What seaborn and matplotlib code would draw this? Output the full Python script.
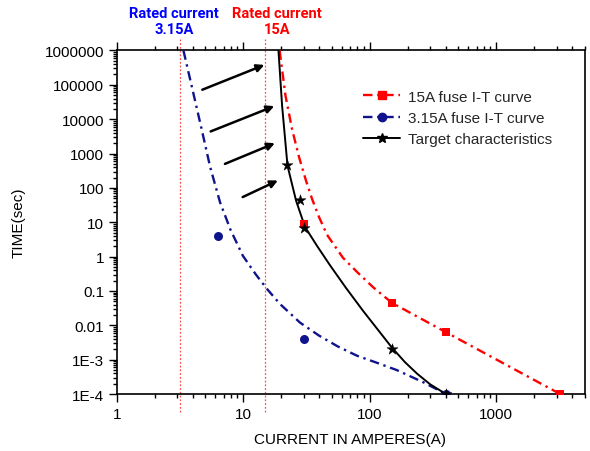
import numpy as np
import pandas as pd
import matplotlib
matplotlib.use("Agg")
import matplotlib.pyplot as plt
import seaborn as sns
from matplotlib.lines import Line2D
from matplotlib.ticker import LogLocator, NullFormatter

# ---- data -------------------------------------------------------------
# 15 A fuse I-T curve (fitted line) and its measured points
fuse15_curve_current = [19.4, 21.6, 24.3, 27.6, 31.4, 35.0, 39.7, 46.0, 61.5, 80.8,
                        108, 150, 400, 3200]
fuse15_curve_time = [1e6, 4.8e4, 5240, 800, 160, 48, 14.3, 4.3, 0.92, 0.335,
                     0.122, 0.045, 0.0063, 1e-4]
fuse15_pts_current = [30, 150, 400, 3200]
fuse15_pts_time = [9, 0.045, 0.0063, 1e-4]

# 3.15 A fuse I-T curve and its measured points
fuse315_curve_current = [3.37, 3.98, 4.70, 5.47, 6.56, 7.94, 9.95, 12.6, 15.4, 19.5,
                         28.1, 39.8, 56.2, 79.4, 112, 163, 265, 400]
fuse315_curve_time = [1e6, 7.1e4, 5000, 417, 38, 6.0, 1.05, 0.30, 0.115, 0.042,
                      0.012, 0.005, 0.0024, 0.0013, 8.3e-4, 5.0e-4, 2.2e-4, 1e-4]
fuse315_pts_current = [6.3, 30, 400]
fuse315_pts_time = [4, 0.004, 1e-4]

# Target characteristics
target_curve_current = [19.0, 20.3, 22.4, 26.2, 30.8, 38.3, 48.6, 65, 88.5, 150,
                        190, 237, 300, 400]
target_curve_time = [1e6, 2.45e4, 440, 42, 7.3, 2.06, 0.556, 0.122, 0.0265, 0.00223,
                     8.45e-4, 3.9e-4, 1.92e-4, 1e-4]
target_pts_current = [22, 28, 30, 150, 400]
target_pts_time = [450, 43, 7, 0.002, 1e-4]

# Shift arrows (from 3.15 A curve towards the target)
arrow_start_current = [4.75, 5.53, 7.17, 9.9]
arrow_start_time = [7.2e4, 4.4e3, 500, 54]
arrow_end_current = [14.7, 17.6, 17.8, 18.8]
arrow_end_time = [3.8e5, 2.4e4, 2.0e3, 164]

# Rated currents
rated_currents = [3.15, 15]
rated_labels = ["Rated current\n3.15A", "Rated current\n15A"]
rated_colors = ["#0000ff", "#ff0000"]

series_labels = ["15A fuse I-T curve", "3.15A fuse I-T curve", "Target characteristics"]

x_ticks = [1, 10, 100, 1000]
x_tick_labels = ["1", "10", "100", "1000"]
y_ticks = [1e6, 1e5, 1e4, 1e3, 1e2, 10, 1, 0.1, 0.01, 1e-3, 1e-4]
y_tick_labels = ["1000000", "100000", "10000", "1000", "100", "10", "1",
                 "0.1", "0.01", "1E-3", "1E-4"]

# ---- style ------------------------------------------------------------
sns.set_theme(style="ticks")
plt.rcParams["font.family"] = ["Liberation Sans", "DejaVu Sans"]

RED = "#ff0000"
NAVY = "#0f148c"
DASHDOT = (0, (4, 2, 1, 2))

fig = plt.figure(figsize=(5.9, 4.52), dpi=100)
ax = fig.add_axes([0.1978, 0.1261, 0.7931, 0.7600])
ax.set_xscale("log")
ax.set_yscale("log")
ax.set_xlim(1, 5000)
ax.set_ylim(1e-4, 1e6)

# rated-current guide lines, running a little past the frame
for xc in rated_currents:
    ax.plot([xc, xc], [-0.052, 1.033], transform=ax.get_xaxis_transform(),
            clip_on=False, color="#ff5050", lw=0.9, linestyle=(0, (1.5, 1.5)), zorder=1)

# curves
df15 = pd.DataFrame({"I": fuse15_curve_current, "t": fuse15_curve_time})
df315 = pd.DataFrame({"I": fuse315_curve_current, "t": fuse315_curve_time})
dftg = pd.DataFrame({"I": target_curve_current, "t": target_curve_time})

sns.lineplot(data=df15, x="I", y="t", sort=False, estimator=None, ax=ax,
             color=RED, lw=1.7, linestyle=DASHDOT, zorder=3)
sns.lineplot(data=df315, x="I", y="t", sort=False, estimator=None, ax=ax,
             color=NAVY, lw=1.7, linestyle=DASHDOT, zorder=3)
sns.lineplot(data=dftg, x="I", y="t", sort=False, estimator=None, ax=ax,
             color="black", lw=1.4, zorder=4)

# measured points
sns.scatterplot(x=fuse15_pts_current, y=fuse15_pts_time, ax=ax, marker="s", s=30,
                color=RED, edgecolor=RED, linewidth=0, zorder=5)
sns.scatterplot(x=fuse315_pts_current, y=fuse315_pts_time, ax=ax, marker="o", s=42,
                color=NAVY, edgecolor=NAVY, linewidth=0, zorder=5)
sns.scatterplot(x=target_pts_current, y=target_pts_time, ax=ax, marker="*", s=70,
                color="black", edgecolor="black", linewidth=0.3, zorder=6)

# arrows
for x0, y0, x1, y1 in zip(arrow_start_current, arrow_start_time,
                          arrow_end_current, arrow_end_time):
    ax.annotate("", xy=(x1, y1), xytext=(x0, y0),
                arrowprops=dict(arrowstyle="-|>", color="black", lw=1.8,
                                mutation_scale=11, shrinkA=0, shrinkB=0))

# axes, ticks
ax.set_xticks(x_ticks, x_tick_labels)
ax.set_yticks(y_ticks, y_tick_labels)
ax.xaxis.set_minor_locator(LogLocator(base=10, subs=np.arange(2, 10), numticks=20))
ax.yaxis.set_minor_locator(LogLocator(base=10, subs=np.arange(2, 10), numticks=20))
ax.xaxis.set_minor_formatter(NullFormatter())
ax.yaxis.set_minor_formatter(NullFormatter())
ax.tick_params(which="both", direction="out", top=True, right=False,
               labeltop=False, color="black", width=1.0, labelsize=11,
               labelcolor="black")
ax.tick_params(which="major", length=6, pad=3)
ax.tick_params(which="minor", length=3)
for sp in ax.spines.values():
    sp.set_color("black")
    sp.set_linewidth(1.2)

ax.set_xlabel("CURRENT IN AMPERES(A)", fontsize=11, color="black")
ax.set_ylabel("TIME(sec)", fontsize=11, color="black")
ax.xaxis.set_label_coords(0.4986, -0.111)
ax.yaxis.set_label_coords(-0.194, 0.5)

# legend
handles = [
    Line2D([], [], color=RED, lw=1.7, linestyle=DASHDOT, marker="s", ms=5.5),
    Line2D([], [], color=NAVY, lw=1.7, linestyle=DASHDOT, marker="o", ms=6),
    Line2D([], [], color="black", lw=1.4, marker="*", ms=7),
]
ax.legend(handles, series_labels, loc="upper left", bbox_to_anchor=(0.527, 0.886),
          frameon=False, fontsize=11, handlelength=2.4, handletextpad=0.5,
          labelspacing=0.48, borderaxespad=0, borderpad=0)

# rated-current captions above the frame
caption_x = [174, 277]
for txt, col, px in zip(rated_labels, rated_colors, caption_x):
    fig.text(px / 590, 1 - 22 / 452, txt, color=col, ha="center", va="center",
             multialignment="center", fontsize=10.5, fontweight="bold",
             family=["Roboto", "DejaVu Sans"], linespacing=1.2)

fig.savefig("out.png", dpi=100)
